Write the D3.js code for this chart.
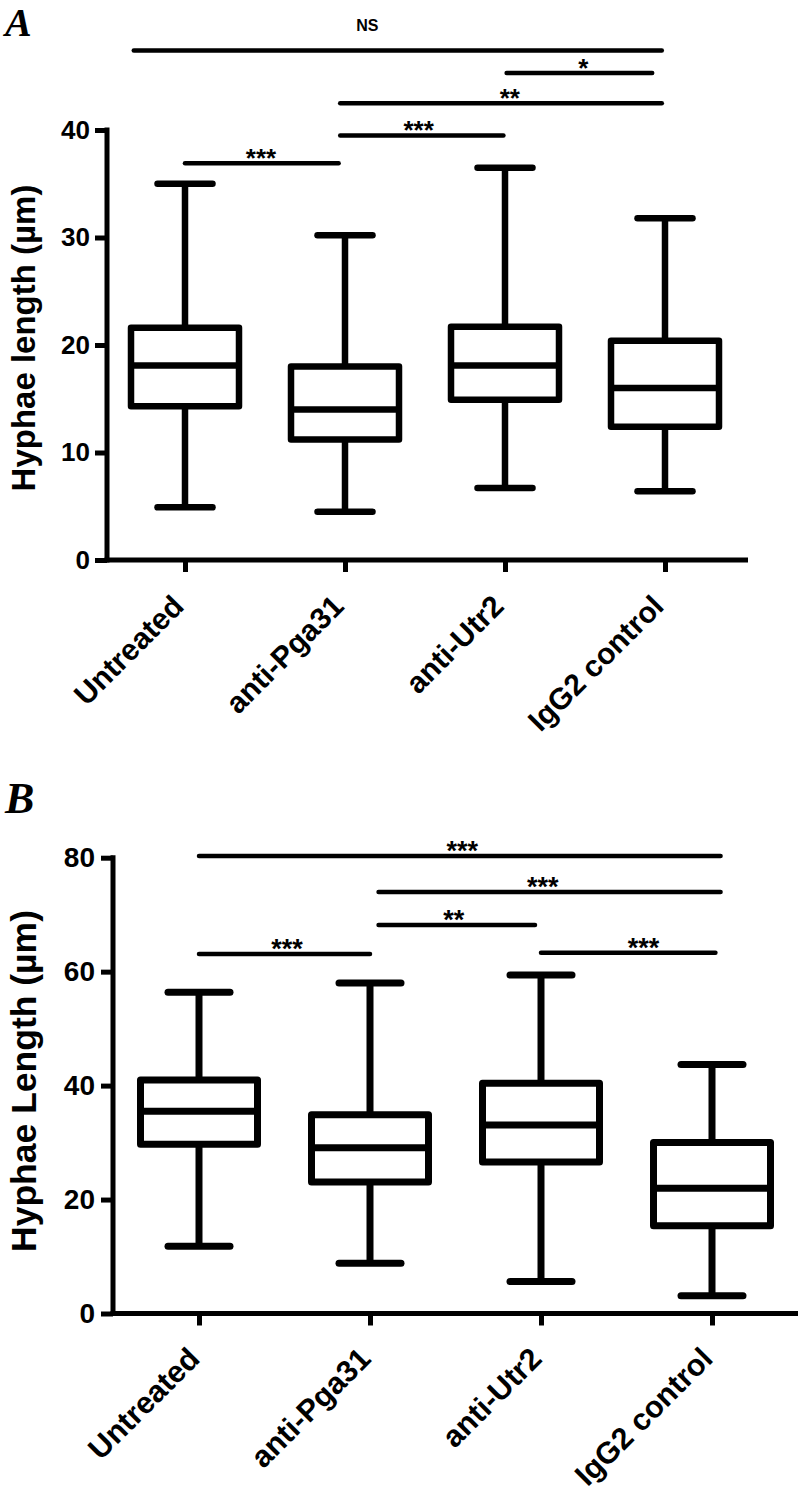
<!DOCTYPE html>
<html>
<head>
<meta charset="utf-8">
<script src="https://cdn.jsdelivr.net/npm/d3@7"></script>
<style>
  html, body { margin: 0; padding: 0; background: #fff; }
  svg { display: block; }
  text { font-family: "Liberation Sans", Arial, Helvetica, sans-serif; fill: #000; }
</style>
</head>
<body>
<svg id="chart" width="800" height="1494"></svg>
<script>
// ---------- Data ----------
const categories = ["Untreated", "anti-Pga31", "anti-Utr2", "IgG2 control"];

// Panel A (µm)
const aMin    = [4.9, 4.5, 6.7, 6.4];
const aQ1     = [14.3, 11.2, 14.9, 12.4];
const aMedian = [18.1, 14.0, 18.1, 16.0];
const aQ3     = [21.6, 18.0, 21.7, 20.4];
const aMax    = [35.0, 30.2, 36.5, 31.8];
const aTicks  = [0, 10, 20, 30, 40];

// Panel A significance comparisons (positions in category index units, heights in µm)
const aCompFrom  = [-0.32, 2.01, 0.97, 0.97, 0.0];
const aCompTo    = [2.98, 2.92, 2.98, 1.99, 0.96];
const aCompY     = [47.4, 45.3, 42.5, 39.5, 36.9];
const aCompLabel = ["NS", "*", "**", "***", "***"];
const aCompLabelAt = [1.14, 2.49, 2.03, 1.46, 0.475];

// Panel B (µm)
const bMin    = [11.8, 8.8, 5.6, 3.1];
const bQ1     = [29.7, 23.1, 26.6, 15.4];
const bMedian = [35.5, 29.1, 33.1, 22.0];
const bQ3     = [41.0, 34.9, 40.4, 30.0];
const bMax    = [56.4, 58.0, 59.4, 43.7];
const bTicks  = [0, 20, 40, 60, 80];

const bCompFrom  = [0.0, 1.05, 1.05, 2.0, 0.0];
const bCompTo    = [3.05, 3.05, 1.965, 3.02, 1.0];
const bCompY     = [80.3, 74.0, 68.2, 63.3, 63.1];
const bCompLabel = ["***", "***", "**", "***", "***"];
const bCompLabelAt = [1.54, 2.01, 1.49, 2.60, 0.515];

// ---------- Drawing ----------
const svg = d3.select("#chart");

function drawPanel(cfg) {
  const g = svg.append("g");
  const y = d3.scaleLinear().domain(cfg.yDomain).range([cfg.yBottom, cfg.yTop]);
  const x = d3.scaleLinear().domain([0, 3]).range([cfg.xFirst, cfg.xLast]);
  const sw = cfg.boxStroke;

  // panel letter
  g.append("text")
    .attr("x", cfg.letterX).attr("y", cfg.letterY)
    .style("font-family", '"Liberation Serif", "Times New Roman", serif')
    .style("font-weight", "bold").style("font-style", "italic")
    .style("font-size", cfg.letterSize + "px")
    .text(cfg.letter);

  // Y axis
  const yAxis = d3.axisLeft(y).tickValues(cfg.ticks).tickSize(12).tickSizeOuter(0)
    .tickPadding(cfg.tickPad).tickFormat(d3.format("d"));
  const ya = g.append("g").attr("transform", `translate(${cfg.axisX},0)`).call(yAxis);
  ya.select(".domain").remove();
  ya.selectAll(".tick line").attr("stroke", "#000").attr("stroke-width", cfg.axisStroke);
  ya.selectAll(".tick text")
    .style("font-size", cfg.tickFont + "px").style("font-weight", "bold")
    .attr("fill", "#000");
  g.append("line")
    .attr("x1", cfg.axisX).attr("x2", cfg.axisX)
    .attr("y1", y(cfg.yDomain[1]) - cfg.axisStroke / 2)
    .attr("y2", cfg.yBottom + cfg.axisStroke / 2)
    .attr("stroke", "#000").attr("stroke-width", cfg.axisStroke);

  // X axis
  const xAxis = d3.axisBottom(x).tickValues([0, 1, 2, 3]).tickSize(12).tickSizeOuter(0)
    .tickFormat(i => categories[i]);
  const xa = g.append("g").attr("transform", `translate(0,${cfg.yBottom})`).call(xAxis);
  xa.select(".domain").remove();
  xa.selectAll(".tick line").attr("stroke", "#000").attr("stroke-width", cfg.axisStroke);
  xa.selectAll(".tick text")
    .style("font-size", cfg.catFont + "px").style("font-weight", "bold")
    .attr("fill", "#000")
    .attr("text-anchor", "end")
    .attr("dy", null)
    .attr("y", null)
    .attr("transform", `translate(${cfg.catDx},${cfg.catDy}) rotate(-45)`);
  g.append("line")
    .attr("x1", cfg.axisX - cfg.axisStroke / 2).attr("x2", cfg.axisEnd)
    .attr("y1", cfg.yBottom).attr("y2", cfg.yBottom)
    .attr("stroke", "#000").attr("stroke-width", cfg.axisStroke);

  // Y axis title
  g.append("text")
    .attr("transform", `translate(${cfg.titleX},${cfg.titleY}) rotate(-90)`)
    .attr("text-anchor", "middle")
    .style("font-size", cfg.titleFont + "px").style("font-weight", "bold")
    .text(cfg.title);

  // Box plots
  const idx = d3.range(categories.length);
  const boxes = g.selectAll(".box").data(idx).join("g").attr("class", "box");
  const hw = cfg.boxHalf, cw = cfg.capHalf;
  // whiskers
  boxes.append("line")
    .attr("x1", i => x(i)).attr("x2", i => x(i))
    .attr("y1", i => y(cfg.max[i])).attr("y2", i => y(cfg.q3[i]))
    .attr("stroke", "#000").attr("stroke-width", sw);
  boxes.append("line")
    .attr("x1", i => x(i)).attr("x2", i => x(i))
    .attr("y1", i => y(cfg.q1[i])).attr("y2", i => y(cfg.min[i]))
    .attr("stroke", "#000").attr("stroke-width", sw);
  // caps
  boxes.append("line")
    .attr("x1", i => x(i) - cw).attr("x2", i => x(i) + cw)
    .attr("y1", i => y(cfg.max[i])).attr("y2", i => y(cfg.max[i]))
    .attr("stroke", "#000").attr("stroke-width", sw).attr("stroke-linecap", "round");
  boxes.append("line")
    .attr("x1", i => x(i) - cw).attr("x2", i => x(i) + cw)
    .attr("y1", i => y(cfg.min[i])).attr("y2", i => y(cfg.min[i]))
    .attr("stroke", "#000").attr("stroke-width", sw).attr("stroke-linecap", "round");
  // box
  boxes.append("rect")
    .attr("x", i => x(i) - hw).attr("width", 2 * hw)
    .attr("y", i => y(cfg.q3[i])).attr("height", i => y(cfg.q1[i]) - y(cfg.q3[i]))
    .attr("fill", "#fff").attr("stroke", "#000").attr("stroke-width", sw)
    .attr("stroke-linejoin", "round");
  // median
  boxes.append("line")
    .attr("x1", i => x(i) - hw).attr("x2", i => x(i) + hw)
    .attr("y1", i => y(cfg.median[i])).attr("y2", i => y(cfg.median[i]))
    .attr("stroke", "#000").attr("stroke-width", sw);

  // Significance bars
  const comps = d3.range(cfg.compFrom.length);
  g.selectAll(".sig").data(comps).join("line").attr("class", "sig")
    .attr("x1", k => x(cfg.compFrom[k])).attr("x2", k => x(cfg.compTo[k]))
    .attr("y1", k => y(cfg.compY[k])).attr("y2", k => y(cfg.compY[k]))
    .attr("stroke", "#000").attr("stroke-width", cfg.sigStroke).attr("stroke-linecap", "round");
  g.selectAll(".siglab").data(comps).join("text").attr("class", "siglab")
    .attr("x", k => x(cfg.compLabelAt[k]))
    .attr("y", k => cfg.compLabel[k] === "NS"
      ? y(cfg.compY[k]) - 19
      : y(cfg.compY[k]) - 11 + 0.57 * cfg.starFont)
    .attr("text-anchor", "middle")
    .style("font-size", k => (cfg.compLabel[k] === "NS" ? 16 : cfg.starFont) + "px")
    .style("font-weight", "bold")
    .text(k => cfg.compLabel[k]);
}

drawPanel({
  letter: "A", letterX: 5, letterY: 36, letterSize: 40,
  yDomain: [0, 40], yBottom: 560, yTop: 130,
  xFirst: 185, xLast: 665, axisX: 107, axisEnd: 748,
  ticks: aTicks, tickFont: 26, tickPad: 5, axisStroke: 5,
  catFont: 30, catDx: 0, catDy: 48,
  title: "Hyphae length (µm)", titleX: 35, titleY: 338, titleFont: 33,
  boxHalf: 54, capHalf: 27.5, boxStroke: 6.5,
  min: aMin, q1: aQ1, median: aMedian, q3: aQ3, max: aMax,
  compFrom: aCompFrom, compTo: aCompTo, compY: aCompY,
  compLabel: aCompLabel, compLabelAt: aCompLabelAt,
  sigStroke: 4.5, starFont: 26
});

drawPanel({
  letter: "B", letterX: 5, letterY: 813, letterSize: 44,
  yDomain: [0, 80], yBottom: 1313.5, yTop: 857.7,
  xFirst: 199, xLast: 712, axisX: 113, axisEnd: 798,
  ticks: bTicks, tickFont: 28, tickPad: 6, axisStroke: 5,
  catFont: 30.5, catDx: 2, catDy: 47,
  title: "Hyphae Length (µm)", titleX: 36, titleY: 1081, titleFont: 35.5,
  boxHalf: 58.5, capHalf: 31, boxStroke: 7,
  min: bMin, q1: bQ1, median: bMedian, q3: bQ3, max: bMax,
  compFrom: bCompFrom, compTo: bCompTo, compY: bCompY,
  compLabel: bCompLabel, compLabelAt: bCompLabelAt,
  sigStroke: 4.5, starFont: 27
});
</script>
</body>
</html>
